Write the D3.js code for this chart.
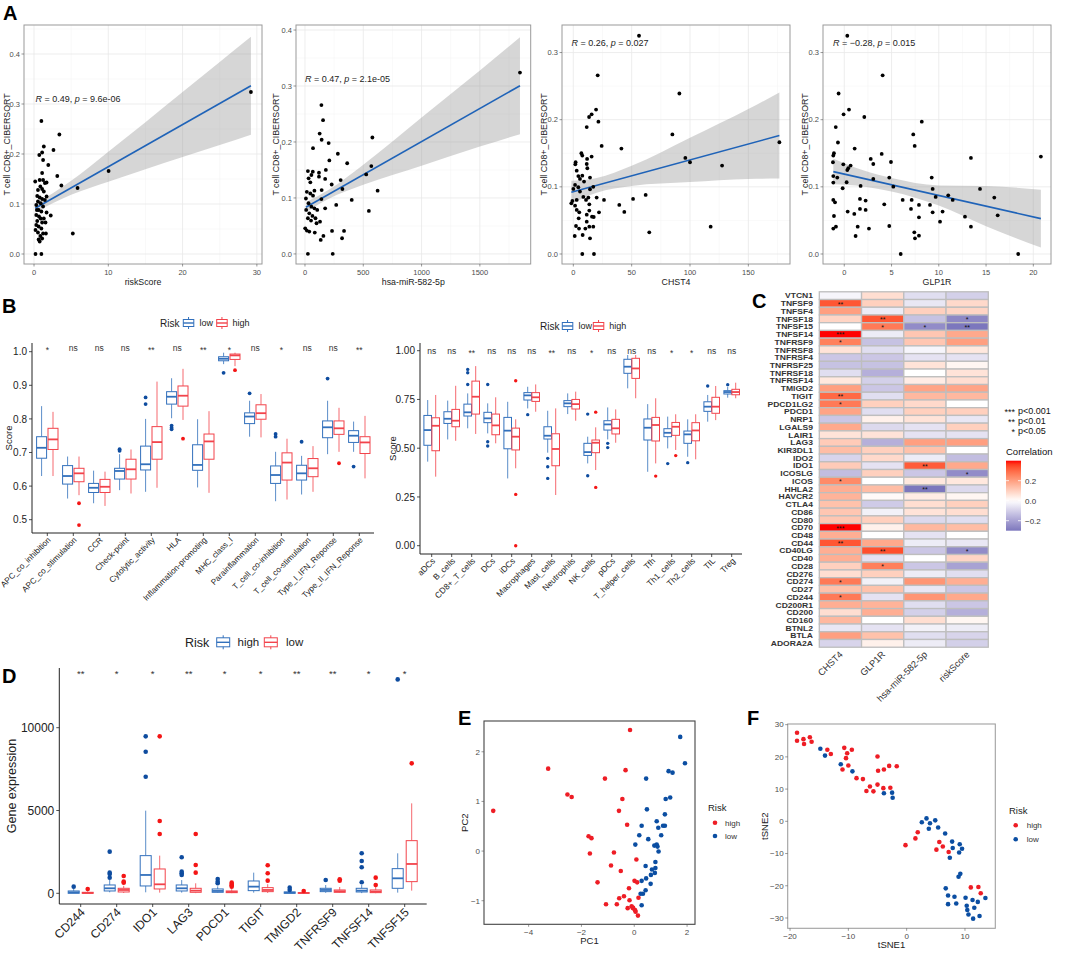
<!DOCTYPE html>
<html><head><meta charset="utf-8">
<script src="https://cdn.jsdelivr.net/npm/d3@7"></script>
<style>body{margin:0;background:#fff}svg{display:block;font-family:"Liberation Sans",Arial,Helvetica,sans-serif}</style>
</head><body><svg id="c" width="1072" height="960"></svg>
<script>
// ---------------- DATA ----------------
// Panel A scatter points [x, y]
const riskPts = [[0.99,0.266],[3.41,0.239],[2.62,0.208],[1.32,0.215],[1.09,0.203],[0.71,0.198],[1.22,0.188],[1.92,0.178],[1.09,0.162],[3.13,0.156],[0.16,0.145],[0.76,0.148],[1.22,0.148],[1.46,0.142],[1.69,0.143],[3.68,0.137],[0.85,0.135],[1.09,0.13],[1.32,0.125],[5.86,0.132],[10.04,0.166],[0.43,0.116],[0.76,0.113],[1.09,0.11],[1.46,0.108],[1.69,0.115],[0.53,0.105],[0.9,0.1015],[0.3,0.098],[1.22,0.095],[0.62,0.088],[0.99,0.085],[1.69,0.083],[2.25,0.077],[0.3,0.078],[0.67,0.075],[0.9,0.071],[0.43,0.066],[1.09,0.063],[1.55,0.063],[0.3,0.058],[0.62,0.055],[0.99,0.051],[0.2,0.048],[0.53,0.043],[1.22,0.041],[1.6,0.041],[5.22,0.041],[0.85,0.036],[0.62,0.029],[1.09,0.031],[0.76,0.025],[0.2,0.0],[0.99,0.0],[29.2,0.324],[0.39,0.088],[1.32,0.071],[0.53,0.128]];
const miRPts = [[25,0],[238,0],[141,0.266],[155,0.239],[126,0.215],[143,0.204],[203,0.198],[69,0.189],[578,0.208],[362,0.162],[282,0.179],[209,0.167],[179,0.15],[569,0.157],[525,0.142],[120,0.145],[67,0.147],[25,0.148],[55,0.141],[31,0.135],[46,0.128],[120,0.138],[173,0.134],[306,0.132],[229,0.124],[321,0.116],[623,0.113],[143,0.114],[81,0.113],[16,0.111],[46,0.108],[69,0.104],[141,0.098],[268,0.0875],[173,0.0815],[401,0.0964],[548,0.0768],[8,0.099],[31,0.0905],[55,0.0845],[81,0.0815],[105,0.0786],[10,0.0786],[37,0.0726],[64,0.0679],[25,0.0637],[90,0.0637],[52,0.0595],[129,0.0577],[99,0.0548],[2,0.0458],[16,0.0417],[37,0.0399],[84,0.0381],[232,0.0411],[335,0.0411],[158,0.0321],[135,0.025],[318,0.028],[1844,0.324]];
const chstPts = [[56.3,0.325],[20.9,0.266],[90.9,0.239],[19.5,0.215],[15.7,0.208],[13.5,0.204],[21.5,0.197],[11.5,0.189],[84.9,0.178],[24.3,0.161],[41.2,0.157],[6.9,0.15],[7.7,0.1465],[15.7,0.145],[2,0.1366],[11.8,0.1416],[96,0.143],[100,0.1366],[127.5,0.1316],[176.6,0.1664],[11.5,0.134],[1.7,0.1336],[2.9,0.124],[12,0.1277],[4.3,0.116],[7.7,0.1167],[14.3,0.1138],[5.7,0.1118],[9.2,0.1078],[1.5,0.1028],[4.3,0.0994],[14.3,0.0964],[17.1,0.1],[0,0.0969],[5.7,0.093],[8.6,0.085],[12.9,0.084],[20,0.084],[26.3,0.0805],[-0.8,0.079],[2.9,0.0805],[10.9,0.0805],[-1.7,0.0755],[1.5,0.072],[13.7,0.074],[39.4,0.073],[51.2,0.082],[62,0.088],[2.9,0.0656],[5.1,0.0621],[11.5,0.0586],[13.7,0.0646],[16,0.0556],[17.5,0.0551],[22,0.0621],[43.7,0.0626],[4.6,0.0531],[11.5,0.0482],[2.3,0.0417],[13.7,0.0407],[17.1,0.0407],[4.9,0.0378],[10.3,0.0378],[1.2,0.0268],[8,0.0283],[14.3,0.0233],[65.1,0.0323],[117.7,0.0407],[7.7,0],[17.7,0]];
const glpPts = [[0.32,0.325],[4.06,0.266],[-0.6,0.239],[0.5,0.215],[-0.07,0.208],[2.12,0.204],[-0.9,0.189],[7.3,0.178],[7.45,0.161],[8.2,0.197],[-0.67,0.166],[1.1,0.157],[-1.09,0.15],[-1.16,0.1465],[-1.2,0.1366],[3.96,0.149],[2.8,0.1416],[3.07,0.134],[4.94,0.137],[13.4,0.143],[20.8,0.145],[-0.1,0.1336],[0.67,0.1316],[0.32,0.125],[0.42,0.1277],[-0.74,0.1138],[-1.16,0.116],[-1.16,0.1063],[0.25,0.1068],[-0.17,0.0979],[3.07,0.1118],[4.76,0.1138],[9.25,0.1138],[1.73,0.1013],[5.19,0.1003],[9.35,0.0969],[14.36,0.0969],[9.67,0.085],[11,0.0874],[11.47,0.0805],[15.87,0.084],[-1.16,0.0805],[-0.98,0.077],[1.66,0.082],[2.26,0.0795],[6.18,0.0805],[7.13,0.0805],[9.07,0.073],[7.9,0.073],[4.23,0.074],[1.66,0.0671],[2.26,0.0656],[7.06,0.0671],[9.35,0.0621],[10.4,0.0631],[0.36,0.0631],[1.06,0.0596],[7.9,0.0546],[10.13,0.0482],[12.77,0.0556],[16.23,0.0576],[-1.09,0.0566],[-0.88,0.0407],[-1.16,0.0378],[1.42,0.0407],[2.61,0.0378],[4.76,0.0417],[13.4,0.0407],[7.41,0.0323],[7.9,0.0273],[7.48,0.0233],[1.2,0.0268],[5.97,0],[18.4,0]];
// fitted lines [x, y] end points and confidence bands [x, lower, upper]
const riskFit = [[0.16,0.0915],[29.2,0.3366]];
const miRFit = [[8,0.0833],[1844,0.3005]];
const chstFit = [[-1.7,0.0919],[176.6,0.1764]];
const glpFit = [[-1.16,0.1227],[20.8,0.0527]];
const riskBand = [[0.16,0.0835,0.0995],[5,0.1183,0.1463],[10,0.1445,0.2045],[15,0.1697,0.2637],[20,0.1939,0.3239],[25,0.2181,0.3841],[29.2,0.2386,0.4346]];
const miRBand = [[8,0.0743,0.0923],[200,0.098,0.114],[500,0.1235,0.1595],[1000,0.1577,0.2437],[1500,0.1918,0.3278],[1844,0.214,0.387]];
const chstBand = [[-1.7,0.0749,0.1089],[20,0.0912,0.1132],[50,0.1014,0.1314],[100,0.1071,0.1731],[150,0.1118,0.2158],[176.6,0.1124,0.2404]];
const glpBand = [[-1.16,0.1037,0.1417],[2,0.1006,0.1246],[5,0.0931,0.1131],[10,0.0721,0.1021],[15,0.0412,0.1012],[20.8,0.0097,0.0957]];
const corrLabels = ["R = 0.49, p = 9.6e-06","R = 0.47, p = 2.1e-05","R = 0.26, p = 0.027","R = \u22120.28, p = 0.015"];

// Panel B (left): immune functions. stats = [lower whisker, Q1, median, Q3, upper whisker]
const funcCats = ["APC_co_inhibition","APC_co_stimulation","CCR","Check-point","Cytolytic_activity","HLA","Inflammation-promoting","MHC_class_I","Parainflammation","T_cell_co-inhibition","T_cell_co-stimulation","Type_I_IFN_Reponse","Type_II_IFN_Reponse"];
const funcLow = [[0.63,0.683,0.714,0.747,0.838],[0.563,0.606,0.63,0.661,0.688],[0.549,0.581,0.595,0.608,0.646],[0.588,0.621,0.645,0.653,0.695],[0.583,0.648,0.665,0.719,0.8],[0.802,0.844,0.866,0.881,0.921],[0.596,0.647,0.663,0.723,0.799],[0.963,0.973,0.979,0.985,0.997],[0.747,0.786,0.807,0.818,0.854],[0.555,0.608,0.633,0.66,0.702],[0.575,0.618,0.638,0.662,0.69],[0.695,0.744,0.775,0.794,0.854],[0.702,0.73,0.75,0.765,0.792]];
const funcHigh = [[0.63,0.709,0.739,0.772,0.821],[0.573,0.613,0.638,0.653,0.688],[0.541,0.581,0.598,0.62,0.643],[0.578,0.621,0.65,0.68,0.709],[0.595,0.68,0.731,0.777,0.911],[0.797,0.838,0.869,0.898,0.949],[0.58,0.68,0.733,0.755,0.823],[0.957,0.977,0.989,0.993,0.997],[0.745,0.799,0.817,0.842,0.874],[0.56,0.618,0.67,0.699,0.741],[0.583,0.628,0.653,0.682,0.719],[0.702,0.754,0.772,0.794,0.833],[0.623,0.697,0.73,0.747,0.809]];
const funcLowOut = [[],[],[],[0.71,0.705],[0.864,0.844],[0.78,0.774,0.769],[],[0.937],[0.876],[0.755,0.747],[0.732],[0.92],[0.658]];
const funcHighOut = [[],[0.549,0.484],[],[],[],[0.741],[],[0.945],[],[],[],[0.668],[]];
const funcSig = ["*","ns","ns","ns","**","ns","**","*","ns","*","ns","ns","**"];

// Panel B (right): immune cells
const cellCats = ["aDCs","B_cells","CD8+_T_cells","DCs","iDCs","Macrophages","Mast_cells","Neutrophils","NK_cells","pDCs","T_helper_cells","Tfh","Th1_cells","Th2_cells","TIL","Treg"];
const cellLow = [[0.431,0.515,0.593,0.668,0.747],[0.545,0.627,0.651,0.687,0.744],[0.602,0.665,0.684,0.726,0.781],[0.576,0.631,0.653,0.684,0.73],[0.345,0.497,0.59,0.658,0.738],[0.704,0.747,0.771,0.785,0.815],[0.477,0.547,0.564,0.61,0.692],[0.675,0.713,0.73,0.744,0.781],[0.422,0.463,0.48,0.525,0.559],[0.545,0.593,0.622,0.641,0.709],[0.807,0.884,0.918,0.956,0.978],[0.379,0.542,0.605,0.65,0.726],[0.499,0.559,0.579,0.6,0.662],[0.456,0.525,0.571,0.588,0.648],[0.636,0.689,0.713,0.738,0.773],[0.759,0.778,0.788,0.795,0.815]];
const cellHigh = [[0.354,0.487,0.615,0.656,0.773],[0.538,0.61,0.641,0.699,0.82],[0.573,0.675,0.764,0.844,0.921],[0.525,0.569,0.617,0.675,0.761],[0.397,0.491,0.559,0.603,0.648],[0.687,0.74,0.761,0.785,0.827],[0.26,0.41,0.496,0.574,0.704],[0.641,0.701,0.726,0.75,0.79],[0.388,0.477,0.528,0.542,0.607],[0.528,0.573,0.602,0.648,0.699],[0.756,0.858,0.909,0.961,0.978],[0.422,0.537,0.619,0.658,0.756],[0.491,0.566,0.61,0.632,0.674],[0.443,0.538,0.591,0.631,0.674],[0.644,0.679,0.713,0.761,0.819],[0.756,0.774,0.788,0.802,0.836]];
const cellLowOut = [[],[],[0.904,0.887,0.827],[0.827,0.533,0.511],[],[0.672],[0.448,0.405,0.345],[],[0.675,0.359],[0.525,0.503],[],[],[0.421],[0.426],[0.819],[0.826]];
const cellHighOut = [[],[],[],[],[0.846,0.263,0.0],[],[],[],[0.685,0.299],[],[],[0.357],[0.462],[],[],[]];
const cellSig = ["ns","ns","**","ns","ns","ns","**","ns","*","ns","ns","ns","*","*","ns","ns"];

// Panel C: correlation heatmap
const heatRows = ["VTCN1","TNFSF9","TNFSF4","TNFSF18","TNFSF15","TNFSF14","TNFRSF9","TNFRSF8","TNFRSF4","TNFRSF25","TNFRSF18","TNFRSF14","TMIGD2","TIGIT","PDCD1LG2","PDCD1","NRP1","LGALS9","LAIR1","LAG3","KIR3DL1","IDO2","IDO1","ICOSLG","ICOS","HHLA2","HAVCR2","CTLA4","CD86","CD80","CD70","CD48","CD44","CD40LG","CD40","CD28","CD276","CD274","CD27","CD244","CD200R1","CD200","CD160","BTNL2","BTLA","ADORA2A"];
const heatCols = ["CHST4","GLP1R","hsa-miR-582-5p","riskScore"];
const corrCHST4 = [-0.02,0.33,0.2,0.09,0.0,0.4,0.26,0.06,-0.12,-0.13,-0.07,0.05,0.2,0.3,0.27,0.19,-0.12,0.18,0.06,0.11,0.14,-0.09,0.11,-0.14,0.24,0.17,0.16,0.13,0.12,0.12,0.4,0.17,0.33,0.17,0.17,0.1,0.07,0.27,0.13,0.27,0.17,0.07,0.15,-0.05,0.2,-0.09];
const corrGLP1R = [0.07,0.1,-0.04,0.33,0.27,-0.04,-0.13,-0.07,-0.12,-0.13,-0.17,-0.1,-0.12,-0.07,0.1,-0.07,0.03,-0.08,0.06,-0.17,0.1,0.08,-0.06,0.1,0.0,0.14,0.01,-0.11,-0.03,0.1,0.03,0.0,0.18,0.34,-0.06,0.26,0.1,-0.03,0.13,-0.06,0.16,0.17,0.0,-0.06,0.13,0.03];
const corrMiR = [-0.07,-0.05,0.1,-0.13,-0.25,0.12,0.12,-0.02,-0.06,0.06,0.0,0.04,0.19,0.15,0.08,0.1,0.06,-0.06,-0.06,0.2,0.13,-0.04,0.32,-0.12,0.05,-0.3,0.04,0.07,0.06,-0.08,0.15,-0.06,-0.04,-0.12,0.0,-0.12,-0.04,0.22,-0.05,0.22,-0.07,-0.1,0.07,-0.03,-0.07,-0.04];
const corrRisk = [-0.1,0.08,0.09,-0.26,-0.3,0.18,0.2,0.05,-0.06,0.02,0.06,0.07,0.19,0.15,0.0,0.1,-0.05,0.1,-0.06,0.2,0.0,-0.14,0.18,-0.25,0.05,-0.08,0.02,0.1,0.07,-0.07,0.14,0.0,-0.05,-0.25,0.09,-0.2,-0.07,0.17,-0.12,0.18,-0.12,-0.17,0.02,-0.04,-0.09,-0.1];
const heatSig = [["TNFSF9","CHST4","**"],["TNFSF18","GLP1R","**"],["TNFSF18","riskScore","*"],["TNFSF15","GLP1R","*"],["TNFSF15","hsa-miR-582-5p","*"],["TNFSF15","riskScore","**"],["TNFSF14","CHST4","***"],["TNFRSF9","CHST4","*"],["TIGIT","CHST4","**"],["PDCD1LG2","CHST4","*"],["IDO1","hsa-miR-582-5p","**"],["ICOSLG","riskScore","*"],["ICOS","CHST4","*"],["HHLA2","hsa-miR-582-5p","**"],["CD70","CHST4","***"],["CD44","CHST4","**"],["CD40LG","GLP1R","**"],["CD40LG","riskScore","*"],["CD28","GLP1R","*"],["CD274","CHST4","*"],["CD244","CHST4","*"]];

// Panel D: gene expression
const geneCats = ["CD244","CD274","IDO1","LAG3","PDCD1","TIGIT","TMIGD2","TNFRSF9","TNFSF14","TNFSF15"];
const geneHigh = [[0,0,60,141,280],[60,141,302,503,805],[60,443,1107,2274,4990],[40,141,302,503,800],[20,60,141,262,420],[40,161,402,744,1247],[0,0,40,80,150],[30,100,201,302,500],[10,80,161,302,503],[40,302,905,1489,2414]];
const geneLow = [[0,0,20,60,120],[20,80,201,302,450],[40,262,543,1469,2274],[10,60,161,302,604],[10,40,80,141,250],[20,100,201,342,550],[0,0,20,40,80],[20,60,121,201,380],[5,40,100,201,400],[161,704,1771,3179,5432]];
const geneHighOut = [[402],[945,1167,1247,2515],[7042,8551,9477],[1107,1207,1308,2173],[604,704,865],[],[201,342],[805],[664,1569,1952,2414],[12917]];
const geneLowOut = [[262],[644,704,1046],[3581,4366,9477],[1247,1710,3581],[402,483,563,644],[764,1207,1690],[141],[764,845],[503,945],[7847]];
const geneSig = ["**","*","*","**","*","*","**","**","*","*"];

// Panel E: PCA
const pcaHigh = [[-0.16,2.44],[-3.26,1.66],[-0.33,1.63],[-1.11,1.46],[-2.53,1.14],[-2.37,1.09],[-5.34,0.81],[-0.45,1.05],[-0.58,0.81],[-0.27,0.53],[-1.73,0.30],[-1.62,0.26],[-1.68,-0.05],[-0.77,-0.03],[0.08,-0.17],[-0.88,-0.29],[-0.51,-0.40],[-1.39,-0.63],[0.01,-0.60],[0.11,-0.63],[-0.20,-0.75],[-0.39,-0.91],[-0.57,-0.95],[-0.18,-0.99],[0.16,-0.94],[-1.07,-1.07],[-0.66,-1.07],[-0.25,-1.15],[-0.10,-1.11],[-0.04,-1.15],[0.03,-1.19],[0.05,-1.22],[0.14,-1.30],[-0.06,-1.14]];
const pcaLow = [[1.74,2.30],[1.92,1.77],[1.30,1.61],[1.45,1.58],[0.45,1.46],[1.36,1.08],[1.19,1.05],[0.48,0.84],[1.16,0.74],[0.85,0.60],[0.28,0.51],[0.91,0.47],[1.09,0.51],[1.16,0.51],[0.19,0.32],[0.53,0.24],[1.02,0.32],[0.04,0.13],[0.76,0.11],[0.85,0.13],[0.88,0.09],[0.92,-0.01],[0.80,-0.22],[0.43,-0.30],[0.80,-0.34],[0.67,-0.37],[0.78,-0.44],[0.63,-0.48],[0.45,-0.55],[0.28,-0.60],[0.62,-0.66],[0.43,-0.79],[0.33,-0.86],[0.24,-0.86],[0.28,-1.09]];
// Panel F: tSNE
const tsneHigh = [[-18.8,27.5],[-18.8,25.0],[-17.7,25.5],[-17.6,24.0],[-16.6,26.1],[-16.3,24.7],[-13.6,22.2],[-13.0,20.9],[-10.7,22.8],[-10.2,21.1],[-10.4,19.6],[-9.4,22.2],[-11.0,16.1],[-10.0,17.3],[-8.6,13.4],[-7.5,13.1],[-6.9,9.4],[-6.3,10.8],[-5.7,9.3],[-5.0,20.1],[-4.9,15.7],[-3.9,16.1],[-3.0,17.2],[-1.7,17.1],[-5.0,11.4],[-4.0,10.3],[-2.8,10.4],[-0.2,-7.4],[1.5,-5.3],[1.9,-3.4],[5.1,-8.8],[5.6,-6.4],[6.2,-7.8],[7.2,-9.5],[11.0,-20.5],[12.3,-20.4],[12.7,-22.3]];
const tsneLow = [[-14.8,22.5],[-14.0,20.4],[-11.3,17.7],[-9.3,15.5],[-3.9,8.7],[-2.5,8.9],[-2.4,7.3],[2.6,-0.3],[3.4,0.9],[3.8,-2.3],[4.0,-0.6],[4.9,0.3],[5.4,-1.9],[6.6,-3.8],[7.8,-6.3],[7.9,-8.3],[9.1,-7.1],[9.5,-8.5],[9.0,-9.7],[7.4,-11.3],[8.9,-17.2],[9.2,-16.3],[6.7,-20.8],[7.1,-23.0],[7.1,-25.7],[8.2,-23.4],[8.5,-25.5],[10.1,-23.7],[10.3,-26.2],[10.4,-27.5],[10.6,-28.9],[11.4,-30.2],[11.3,-24.4],[11.6,-26.8],[12.2,-25.0],[12.5,-29.4],[13.5,-23.8]];

// ---------------- DRAWING ----------------
const svg = d3.select("#c");
const BLUE = "#3270BC", RED = "#F2434B", BLUE_DOT = "#0E4C9F", RED_DOT = "#F41515";
const PT_RED = "#EE1D25", PT_BLUE = "#0B4EA2";

function txt(g, x, y, s, o = {}) {
  const t = g.append("text").attr("x", x).attr("y", y).text(s)
    .attr("font-size", o.size || 9).attr("fill", o.fill || "#000");
  if (o.anchor) t.attr("text-anchor", o.anchor);
  if (o.weight) t.attr("font-weight", o.weight);
  if (o.style) t.attr("font-style", o.style);
  if (o.rotate != null) t.attr("transform", `rotate(${o.rotate},${x},${y})`);
  return t;
}
function line(g, x1, y1, x2, y2, stroke, w = 1, op = 1) {
  return g.append("line").attr("x1", x1).attr("y1", y1).attr("x2", x2).attr("y2", y2)
    .attr("stroke", stroke).attr("stroke-width", w).attr("stroke-opacity", op);
}

// ---- Panel A ----
function scatter(cfg) {
  const g = svg.append("g");
  const x = d3.scaleLinear().domain(cfg.xDom).range([cfg.L, cfg.R]);
  const y = d3.scaleLinear().domain(cfg.yDom).range([cfg.B, cfg.T]);
  g.append("rect").attr("x", cfg.L).attr("y", cfg.T).attr("width", cfg.R - cfg.L).attr("height", cfg.B - cfg.T).attr("fill", "#fff");
  const xt = cfg.xTicks, yt = cfg.yTicks;
  const dx = xt[1] - xt[0], dy = yt[1] - yt[0];
  const inX = v => v > cfg.xDom[0] && v < cfg.xDom[1], inY = v => v > cfg.yDom[0] && v < cfg.yDom[1];
  d3.range(xt[0] - dx / 2, xt[xt.length - 1] + dx, dx).filter(inX).forEach(v => line(g, x(v), cfg.T, x(v), cfg.B, "#F3F3F3", 0.5));
  d3.range(yt[0] - dy / 2, yt[yt.length - 1] + dy, dy).filter(inY).forEach(v => line(g, cfg.L, y(v), cfg.R, y(v), "#F3F3F3", 0.5));
  xt.forEach(v => line(g, x(v), cfg.T, x(v), cfg.B, "#E8E8E8", 0.8));
  yt.forEach(v => line(g, cfg.L, y(v), cfg.R, y(v), "#E8E8E8", 0.8));
  const area = d3.area().x(d => x(d[0])).y0(d => y(d[1])).y1(d => y(d[2])).curve(d3.curveMonotoneX);
  g.append("path").attr("d", area(cfg.band)).attr("fill", "#999").attr("fill-opacity", 0.4);
  g.append("path").attr("d", d3.line().x(d => x(d[0])).y(d => y(d[1]))(cfg.fit))
    .attr("stroke", "#1F63B8").attr("stroke-width", 1.6).attr("fill", "none");
  g.selectAll(null).data(cfg.pts).join("circle").attr("cx", d => x(d[0])).attr("cy", d => y(d[1])).attr("r", 1.9).attr("fill", "#000");
  g.append("rect").attr("x", cfg.L).attr("y", cfg.T).attr("width", cfg.R - cfg.L).attr("height", cfg.B - cfg.T)
    .attr("fill", "none").attr("stroke", "#9A9A9A").attr("stroke-width", 1);
  xt.forEach(v => { line(g, x(v), cfg.B, x(v), cfg.B + 2.5, "#555", 0.6); txt(g, x(v), cfg.B + 10.5, String(v), { size: 7.5, fill: "#4D4D4D", anchor: "middle" }); });
  yt.forEach(v => { line(g, cfg.L - 2.5, y(v), cfg.L, y(v), "#555", 0.6); txt(g, cfg.L - 4, y(v) + 2.6, d3.format(".1f")(v), { size: 7.5, fill: "#4D4D4D", anchor: "end" }); });
  txt(g, (cfg.L + cfg.R) / 2, 285, cfg.xTitle, { size: 8.8, fill: "#222", anchor: "middle" });
  txt(g, cfg.yTitleX, (cfg.T + cfg.B) / 2, "T cell CD8+_CIBERSORT", { size: 8.8, fill: "#222", anchor: "middle", rotate: -90 });
  const parts = cfg.label.split(", ");
  const t = g.append("text").attr("x", cfg.annX).attr("y", cfg.annY).attr("font-size", 9).attr("fill", "#222");
  t.append("tspan").attr("font-style", "italic").text("R");
  t.append("tspan").text(parts[0].slice(1) + ", ");
  t.append("tspan").attr("font-style", "italic").text("p");
  t.append("tspan").text(parts[1].slice(1));
}
const AT = 25, AB = 264;
scatter({ pts: riskPts, fit: riskFit, band: riskBand, L: 24, R: 262, T: AT, B: AB, xDom: [-1.35, 30.69], yDom: [-0.02, 0.458], xTicks: [0, 10, 20, 30], yTicks: [0, 0.1, 0.2, 0.3, 0.4], xTitle: "riskScore", yTitleX: 10, label: corrLabels[0], annX: 35.5, annY: 102 });
scatter({ pts: miRPts, fit: miRFit, band: miRBand, L: 296, R: 530.7, T: AT, B: AB, xDom: [-77, 1936], yDom: [-0.018, 0.409], xTicks: [0, 500, 1000, 1500], yTicks: [0, 0.1, 0.2, 0.3, 0.4], xTitle: "hsa-miR-582-5p", yTitleX: 279, label: corrLabels[1], annX: 305, annY: 82 });
scatter({ pts: chstPts, fit: chstFit, band: chstBand, L: 562, R: 790, T: AT, B: AB, xDom: [-9.7, 185.7], yDom: [-0.0149, 0.341], xTicks: [0, 50, 100, 150], yTicks: [0, 0.1, 0.2, 0.3], xTitle: "CHST4", yTitleX: 547, label: corrLabels[2], annX: 571.5, annY: 46 });
scatter({ pts: glpPts, fit: glpFit, band: glpBand, L: 823, R: 1051, T: AT, B: AB, xDom: [-2.25, 21.87], yDom: [-0.0149, 0.341], xTicks: [0, 5, 10, 15, 20], yTicks: [0, 0.1, 0.2, 0.3], xTitle: "GLP1R", yTitleX: 808, label: corrLabels[3], annX: 833, annY: 46 });

// ---- Box plots ----
function boxKey(g, x, cy, w, h, color) {
  line(g, x + w / 2, cy - h / 2 - 2.5, x + w / 2, cy + h / 2 + 2.5, color, 1);
  g.append("rect").attr("x", x).attr("y", cy - h / 2).attr("width", w).attr("height", h).attr("fill", "#fff").attr("stroke", color).attr("stroke-width", 1);
  line(g, x, cy, x + w, cy, color, 1.4);
}
function boxPanel(cfg) {
  const g = svg.append("g");
  const xb = d3.scaleBand().domain(cfg.cats).range(cfg.xRange);
  const y = d3.scaleLinear().domain(cfg.yDom).range(cfg.yRange);
  const cxOf = c => xb(c) + xb.bandwidth() / 2;
  line(g, cfg.axisX, cfg.axisTop, cfg.axisX, cfg.axisBottom, "#222", 1);
  line(g, cfg.axisX, cfg.axisBottom, cfg.axisRight, cfg.axisBottom, "#222", 1);
  cfg.yTicks.forEach(v => {
    line(g, cfg.axisX - 3, y(v), cfg.axisX, y(v), "#222", 0.8);
    txt(g, cfg.axisX - 5, y(v) + cfg.tickSize * 0.36, cfg.fmt(v), { size: cfg.tickSize, fill: "#222", anchor: "end" });
  });
  cfg.cats.forEach(c => {
    const cx = cxOf(c);
    line(g, cx, cfg.axisBottom, cx, cfg.axisBottom + 3, "#222", 0.8);
    txt(g, cx + cfg.catDx, cfg.axisBottom + cfg.catDy, c, { size: cfg.catSize, fill: "#222", anchor: "end", rotate: -45 });
  });
  cfg.groups.forEach(gr => {
    cfg.cats.forEach((c, i) => {
      const [lo, q1, md, q3, hi] = gr.stats[i];
      const cx = cxOf(c) + gr.offset, hw = cfg.bw / 2;
      line(g, cx, y(hi), cx, y(q3), gr.color, 1, 0.8);
      line(g, cx, y(q1), cx, y(lo), gr.color, 1, 0.8);
      g.append("rect").attr("x", cx - hw).attr("y", y(q3)).attr("width", cfg.bw).attr("height", Math.max(0.6, y(q1) - y(q3)))
        .attr("fill", "#fff").attr("stroke", gr.color).attr("stroke-width", 1);
      line(g, cx - hw, y(md), cx + hw, y(md), gr.color, 1.8);
      gr.outs[i].forEach(v => g.append("circle").attr("cx", cx).attr("cy", y(v)).attr("r", cfg.dotR).attr("fill", gr.dot));
    });
  });
  cfg.sig.forEach((s, i) => txt(g, cxOf(cfg.cats[i]), cfg.sigY + (s === "ns" ? 0 : 2), s, { size: cfg.sigSize, fill: "#333", anchor: "middle" }));
  txt(g, cfg.yTitleX, (cfg.axisTop + cfg.axisBottom) / 2, cfg.yTitle, { size: cfg.yTitleSize, fill: "#222", anchor: "middle", rotate: -90 });
  const L = cfg.legend;
  txt(g, L.x, L.y + L.size * 0.36, "Risk", { size: L.size, fill: "#222" });
  L.items.forEach(it => {
    boxKey(g, it.kx, L.y, it.kw, it.kh, it.color);
    txt(g, it.tx, L.y + L.itemSize * 0.36, it.label, { size: L.itemSize, fill: "#222" });
  });
}
boxPanel({
  cats: funcCats, xRange: [34.3, 372.3], yDom: [0.5, 1.0], yRange: [519.7, 351.7],
  axisX: 32, axisTop: 343, axisBottom: 533, axisRight: 374,
  yTicks: [0.5, 0.6, 0.7, 0.8, 0.9, 1.0], fmt: d3.format(".1f"), tickSize: 10,
  catSize: 8.2, catDx: 4, catDy: 7.5,
  groups: [{ stats: funcLow, outs: funcLowOut, color: BLUE, dot: BLUE_DOT, offset: -5.7 }, { stats: funcHigh, outs: funcHighOut, color: RED, dot: RED_DOT, offset: 5.7 }],
  bw: 10, dotR: 1.9, sig: funcSig, sigY: 351, sigSize: 8.5, yTitle: "Score", yTitleX: 12, yTitleSize: 9.5,
  legend: { x: 160, y: 323, size: 10, itemSize: 9, items: [{ kx: 183.3, kw: 10.5, kh: 7, color: BLUE, tx: 199.5, label: "low" }, { kx: 216.7, kw: 10.5, kh: 7, color: RED, tx: 232.5, label: "high" }] }
});
boxPanel({
  cats: cellCats, xRange: [421.7, 741.7], yDom: [0, 1], yRange: [545.7, 350.7],
  axisX: 420, axisTop: 343, axisBottom: 554, axisRight: 742,
  yTicks: [0, 0.25, 0.5, 0.75, 1.0], fmt: d3.format(".2f"), tickSize: 10,
  catSize: 8.4, catDx: 4, catDy: 7.5,
  groups: [{ stats: cellLow, outs: cellLowOut, color: BLUE, dot: BLUE_DOT, offset: -4 }, { stats: cellHigh, outs: cellHighOut, color: RED, dot: RED_DOT, offset: 4 }],
  bw: 7.6, dotR: 1.7, sig: cellSig, sigY: 354, sigSize: 8.5, yTitle: "Score", yTitleX: 396, yTitleSize: 9.5,
  legend: { x: 540, y: 326, size: 10, itemSize: 9, items: [{ kx: 562.3, kw: 10.5, kh: 7, color: BLUE, tx: 578.5, label: "low" }, { kx: 593.3, kw: 10.5, kh: 7, color: RED, tx: 609.3, label: "high" }] }
});
boxPanel({
  cats: geneCats, xRange: [62.7, 422.7], yDom: [0, 10000], yRange: [893.3, 727.7],
  axisX: 59.3, axisTop: 668, axisBottom: 904, axisRight: 426.7,
  yTicks: [0, 5000, 10000], fmt: d3.format("d"), tickSize: 12,
  catSize: 12, catDx: 5, catDy: 9,
  groups: [{ stats: geneHigh, outs: geneHighOut, color: BLUE, dot: BLUE_DOT, offset: -7 }, { stats: geneLow, outs: geneLowOut, color: RED, dot: RED_DOT, offset: 7 }],
  bw: 11, dotR: 2.3, sig: geneSig, sigY: 675, sigSize: 9.5, yTitle: "Gene expression", yTitleX: 16, yTitleSize: 12.5,
  legend: { x: 185, y: 642.3, size: 12.5, itemSize: 11.5, items: [{ kx: 216.7, kw: 13, kh: 9, color: BLUE, tx: 237.5, label: "high" }, { kx: 264.3, kw: 13, kh: 9, color: RED, tx: 286, label: "low" }] }
});

// ---- Panel C heatmap ----
(function () {
  const g = svg.append("g");
  const rowsB = d3.scaleBand().domain(heatRows).range([291.8, 647.2]);
  const colsB = d3.scaleBand().domain(heatCols).range([819.3, 988.3]);
  const colVals = [corrCHST4, corrGLP1R, corrMiR, corrRisk];
  const all = colVals.flat();
  const ext = d3.extent(all);
  const m = Math.max(Math.abs(ext[0]), Math.abs(ext[1]));
  const color = d3.scaleLinear().domain([-m, 0, m]).range(["#4E4EA6", "#FFFFFF", "#FF0000"]).interpolate(d3.interpolateLab);
  g.append("rect").attr("x", 819.3).attr("y", 291.8).attr("width", 169).attr("height", 355.4).attr("fill", "#BEBEBE");
  heatCols.forEach((c, j) => heatRows.forEach((r, i) => {
    g.append("rect").attr("x", colsB(c)).attr("y", rowsB(r)).attr("width", colsB.bandwidth()).attr("height", rowsB.bandwidth())
      .attr("fill", color(colVals[j][i])).attr("stroke", "#BEBEBE").attr("stroke-width", 1.3);
  }));
  heatSig.forEach(([r, c, s]) => txt(g, colsB(c) + colsB.bandwidth() / 2, rowsB(r) + rowsB.bandwidth() / 2 + 3.2, s, { size: 7, fill: "#111", anchor: "middle" }));
  // row labels: slightly condensed height so neighbouring rows don't collide
  heatRows.forEach(r => {
    g.append("text").attr("x", 0).attr("y", 0)
      .attr("transform", `translate(813,${rowsB(r) + rowsB.bandwidth() / 2 + 2.8}) scale(1.14,1)`)
      .attr("text-anchor", "end").attr("font-size", 7.5).attr("font-weight", "bold").attr("fill", "#333").text(r);
  });
  heatCols.forEach(c => txt(g, colsB(c) + colsB.bandwidth() / 2 + 3, 655, c, { size: 9.3, fill: "#333", anchor: "end", rotate: -45 }));
  // p-value key
  [["***", "p<0.001", 414], ["**", "p<0.01", 424], ["*", "p<0.05", 434]].forEach(([s, p, yy]) => {
    txt(g, 1015, yy + 1, s, { size: 9, fill: "#111", anchor: "end" });
    txt(g, 1018, yy, p, { size: 9, fill: "#111" });
  });
  // colorbar
  txt(g, 1006, 455, "Correlation", { size: 9.5, fill: "#111" });
  const cb = d3.scaleLinear().domain([0, 0.2]).range([500.7, 480.7]);
  const defs = svg.append("defs");
  const grad = defs.append("linearGradient").attr("id", "cbar").attr("x1", 0).attr("x2", 0).attr("y1", 1).attr("y2", 0);
  d3.range(0, 1.0001, 0.05).forEach(t => grad.append("stop").attr("offset", t).attr("stop-color", color(ext[0] + t * (ext[1] - ext[0]))));
  g.append("rect").attr("x", 1006).attr("y", cb(ext[1])).attr("width", 15).attr("height", cb(ext[0]) - cb(ext[1])).attr("fill", "url(#cbar)");
  [0.2, 0, -0.2].forEach(v => {
    line(g, 1006, cb(v), 1009, cb(v), "#fff", 0.8);
    line(g, 1018, cb(v), 1021, cb(v), "#fff", 0.8);
    txt(g, 1025, cb(v) + 3, v === 0 ? "0.0" : (v > 0 ? "0.2" : "\u22120.2"), { size: 8, fill: "#333" });
  });
})();

// ---- Panels E & F ----
function dotPanel(cfg) {
  const g = svg.append("g");
  const x = d3.scaleLinear().domain(cfg.xDom).range([cfg.L, cfg.R]);
  const y = d3.scaleLinear().domain(cfg.yDom).range([cfg.B, cfg.T]);
  g.append("rect").attr("x", cfg.L).attr("y", cfg.T).attr("width", cfg.R - cfg.L).attr("height", cfg.B - cfg.T)
    .attr("fill", "#fff").attr("stroke", cfg.border).attr("stroke-width", 1.1);
  g.selectAll(null).data(cfg.high).join("circle").attr("cx", d => x(d[0])).attr("cy", d => y(d[1])).attr("r", 2.3).attr("fill", PT_RED);
  g.selectAll(null).data(cfg.low).join("circle").attr("cx", d => x(d[0])).attr("cy", d => y(d[1])).attr("r", 2.3).attr("fill", PT_BLUE);
  cfg.xTicks.forEach(v => { line(g, x(v), cfg.B, x(v), cfg.B + 2.5, "#555", 0.6); txt(g, x(v), cfg.B + 10.5, v < 0 ? "\u2212" + Math.abs(v) : String(v), { size: 8, fill: "#4D4D4D", anchor: "middle" }); });
  cfg.yTicks.forEach(v => { line(g, cfg.L - 2.5, y(v), cfg.L, y(v), "#555", 0.6); txt(g, cfg.L - 4, y(v) + 2.8, v < 0 ? "\u2212" + Math.abs(v) : String(v), { size: 8, fill: "#4D4D4D", anchor: "end" }); });
  txt(g, (cfg.L + cfg.R) / 2, cfg.xTitleY, cfg.xTitle, { size: 9.5, fill: "#222", anchor: "middle" });
  txt(g, cfg.yTitleX, (cfg.T + cfg.B) / 2, cfg.yTitle, { size: 9.5, fill: "#222", anchor: "middle", rotate: -90 });
  const Lg = cfg.legend;
  txt(g, Lg.x, Lg.y, "Risk", { size: 9.5, fill: "#222" });
  g.append("circle").attr("cx", Lg.dx).attr("cy", Lg.y1).attr("r", 2.3).attr("fill", PT_RED);
  g.append("circle").attr("cx", Lg.dx).attr("cy", Lg.y2).attr("r", 2.3).attr("fill", PT_BLUE);
  txt(g, Lg.tx, Lg.y1 + 3, "high", { size: 8, fill: "#333" });
  txt(g, Lg.tx, Lg.y2 + 3, "low", { size: 8, fill: "#333" });
}
dotPanel({ high: pcaHigh, low: pcaLow, L: 484, R: 695, T: 721, B: 924.3, xDom: [-5.69, 2.3], yDom: [-1.475, 2.62], xTicks: [-4, -2, 0, 2], yTicks: [-1, 0, 1, 2], xTitle: "PC1", xTitleY: 944, yTitle: "PC2", yTitleX: 468, border: "#444", legend: { x: 708, y: 810.5, dx: 715, y1: 822.7, y2: 836, tx: 725 } });
dotPanel({ high: tsneHigh, low: tsneLow, L: 787.7, R: 995.3, T: 724, B: 928.3, xDom: [-20.4, 15.2], yDom: [-33.2, 30.2], xTicks: [-20, -10, 0, 10], yTicks: [-30, -20, -10, 0, 10, 20, 30], xTitle: "tSNE1", xTitleY: 948, yTitle: "tSNE2", yTitleX: 768, border: "#A0A0A0", legend: { x: 1009, y: 813.5, dx: 1015.7, y1: 825.3, y2: 839.3, tx: 1026.7 } });

// ---- Panel letters ----
[["A", 3, 20], ["B", 2, 313], ["C", 752, 308], ["D", 2, 683], ["E", 458, 725], ["F", 747, 725]]
  .forEach(([s, x, y]) => txt(svg, x, y, s, { size: 20, weight: "bold", fill: "#000" }));
</script></body></html>
